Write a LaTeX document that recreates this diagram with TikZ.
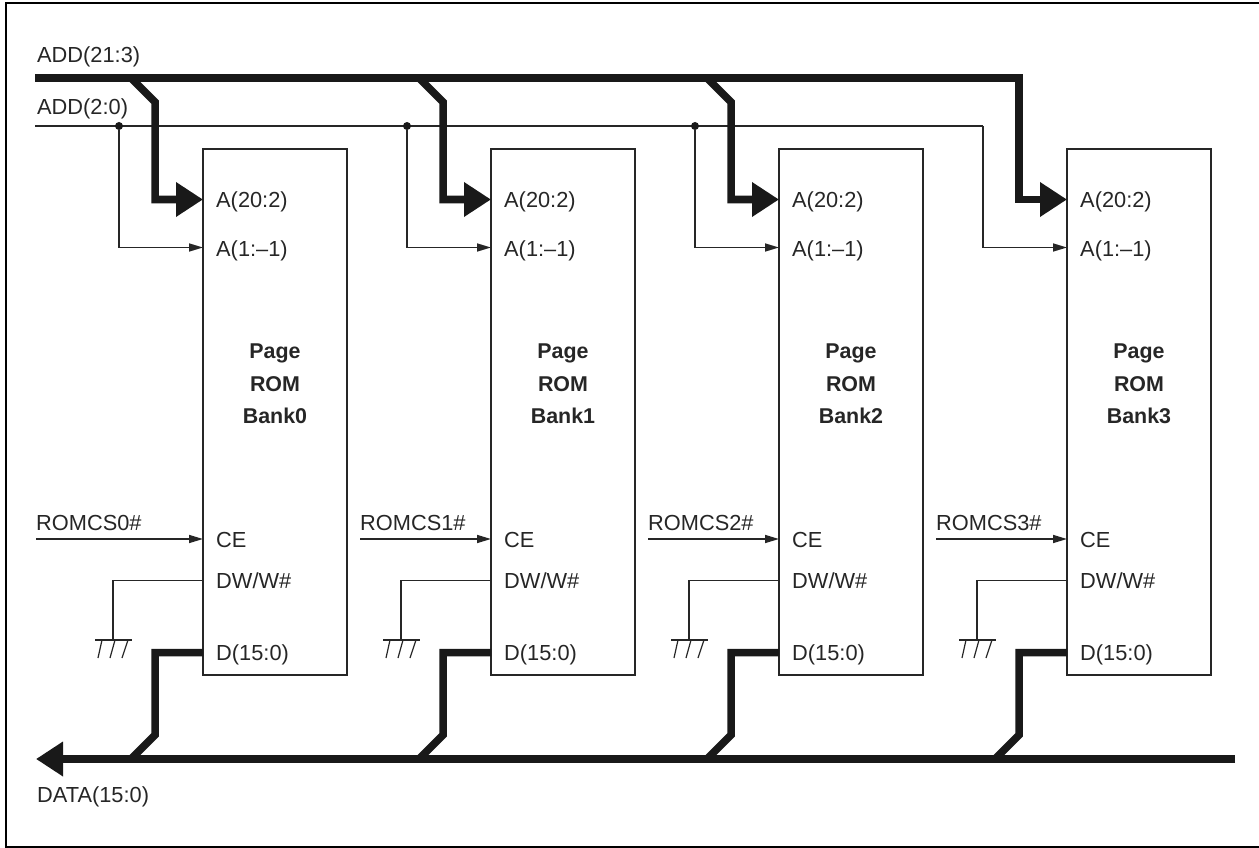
\documentclass[tikz,border=0pt]{standalone}
\usepackage{fontspec}
\setmainfont{Liberation Sans}
\usepackage{xcolor}
\usetikzlibrary{arrows.meta}

\begin{document}
\begin{tikzpicture}[
    x=1pt, y=-1pt,
    font=\fontsize{21.8}{26}\selectfont,
    thinline/.style={line width=1.6pt, draw=black!85},
    thinarr/.style={thinline, -{Triangle[length=14pt, width=8pt]}},
    busline/.style={line width=7.5pt, draw=black!90, miter limit=10},
    busarr/.style={busline, -{Triangle[length=27pt, width=33pt]}},
    chipbox/.style={draw=black!85, line width=1.8pt, minimum width=144pt, minimum height=526pt, inner sep=0pt},
    lbl/.style={inner sep=0pt, anchor=west, text=black!85},
    title/.style={inner sep=0pt, anchor=base, font=\fontsize{21.4}{26}\selectfont\bfseries, text=black!85}
  ]
  \useasboundingbox (0,0) rectangle (1259,848);
  \draw[line width=2pt, draw=black] (1262,3) -- (6,3) -- (6,847) -- (1262,847);

  % main buses
  \node[lbl] (addhi) at (37,56.5) {ADD(21:3)};
  \node[lbl] (addlo) at (37,109) {ADD(2:0)};
  \node[lbl] (data) at (37,796.5) {DATA(15:0)};
  \coordinate (addhistart) at (35,78);
  \coordinate (addhicorner) at (1019,78);
  \coordinate (addlostart) at (35,126);
  \coordinate (addlocorner) at (983,126);
  \coordinate (datastart) at (1235,759);
  \coordinate (dataend) at (36,759);
  \draw[thinline] (addlostart) -- (addlocorner);
  \draw[busarr] (datastart) -- (dataend);

  % one bank per step
  \foreach \n/\xx in {0/0, 1/288, 2/576, 3/864} {
    \begin{scope}[xshift=\xx pt]
      \node[chipbox] (bank\n) at (275,412) {};
      \node[title] (page\n) at (275,358) {Page};
      \node[title] (rom\n) at (275,391) {ROM};
      \node[title] (name\n) at (275,423) {Bank\n};
      \node[lbl] (ahi\n) at (216,202) {A(20:2)};
      \node[lbl] (alo\n) at (216,250.5) {A(1:--1)};
      \node[lbl] (ce\n) at (216,540) {CE};
      \node[lbl] (dw\n) at (216,581) {DW/W\#};
      \node[lbl] (dq\n) at (216,654.5) {D(15:0)};
      \coordinate (ahipin\n) at (203,199.5);
      \coordinate (alopin\n) at (203,247.5);
      \coordinate (cepin\n) at (203,539);
      \coordinate (dwpin\n) at (203,580.5);
      \coordinate (dqpin\n) at (203,652.5);
      \coordinate (gnd\n) at (113,640);
      % ground
      \draw[thinline] (dwpin\n) -| (gnd\n);
      \draw[line width=2pt, draw=black!85] (95,640) -- (132,640);
      \draw[line width=1.2pt, draw=black!85] (102,640) -- (98,658) (115,640) -- (110,658) (128,640) -- (122,658);
      % data branch
      \draw[busline] (dqpin\n) -- (155,652.5) -- (155,735) -- (131,759);
    \end{scope}
  }

  % address branches and chip enables
  \foreach \n/\xx in {0/0, 1/288, 2/576} {
    \begin{scope}[xshift=\xx pt]
      \node[circle, fill=black!90, inner sep=0pt, minimum size=8pt] (dot\n) at (119,126) {};
      \draw[thinarr] (dot\n) |- (alopin\n);
      \draw[busarr] (131,78) -- (155,102) -- (155,199.5) -- (ahipin\n);
    \end{scope}
  }
  \draw[busarr] (addhistart) -- (addhicorner) |- (ahipin3);
  \draw[thinarr] (addlocorner) |- (alopin3);

  \node[lbl] (cs0) at (36,522.5) {ROMCS0\#};
  \node[lbl] (cs1) at (360,522.5) {ROMCS1\#};
  \node[lbl] (cs2) at (648,522.5) {ROMCS2\#};
  \node[lbl] (cs3) at (936,522.5) {ROMCS3\#};
  \draw[thinarr] (cs0.west |- cepin0) -- (cepin0);
  \draw[thinarr] (cs1.west |- cepin1) -- (cepin1);
  \draw[thinarr] (cs2.west |- cepin2) -- (cepin2);
  \draw[thinarr] (cs3.west |- cepin3) -- (cepin3);
\end{tikzpicture}
\end{document}
